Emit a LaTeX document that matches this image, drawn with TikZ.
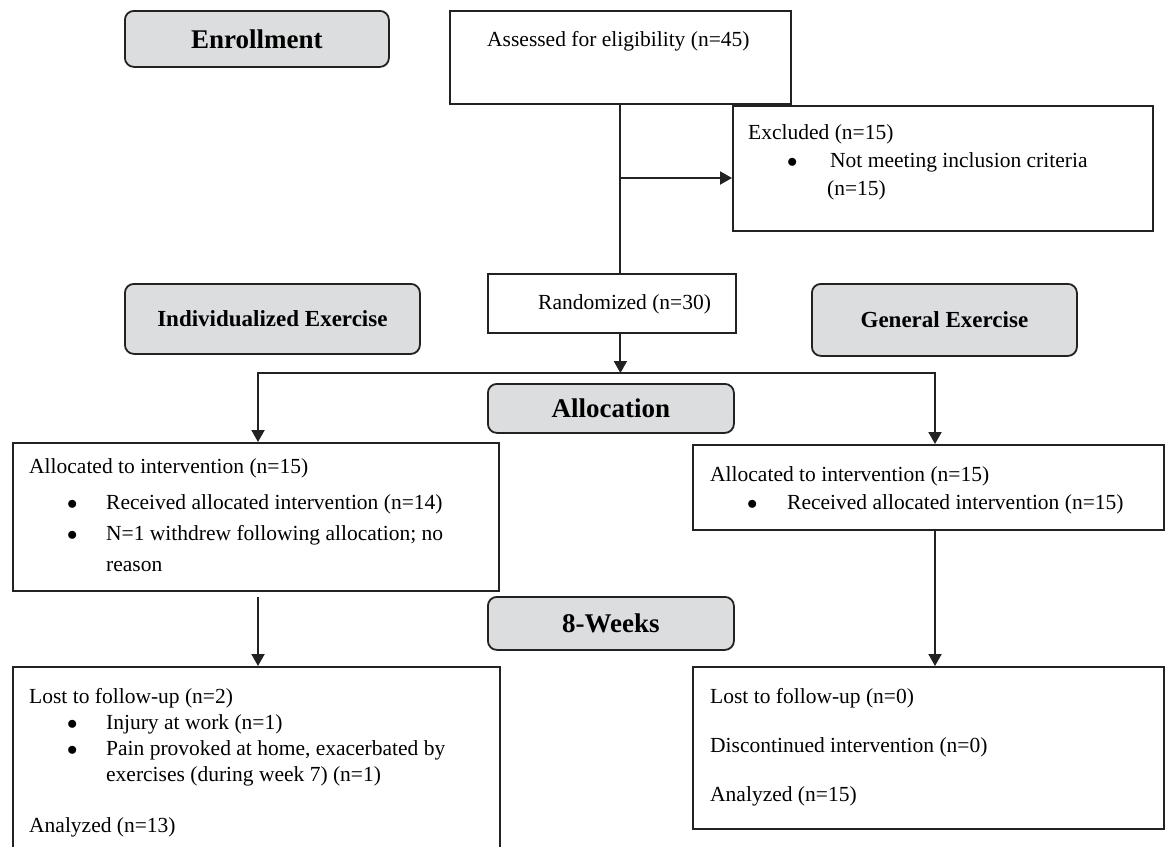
\documentclass[tikz,border=0pt]{standalone}
\usepackage{fontspec}
\setmainfont{Liberation Serif}
\usetikzlibrary{arrows.meta,calc}
\definecolor{hdfill}{HTML}{DCDDDF}
\definecolor{ln}{HTML}{222222}
\newcommand\blt[2]{\hspace*{#1}\makebox[#2][l]{$\bullet$}}
\newcommand\rw[1]{\hbox{#1}}
\begin{document}
\begin{tikzpicture}[x=1pt,y=-1pt,
  box/.style={draw=ln, line width=1.8pt, fill=white, inner sep=0pt, anchor=north west},
  hd/.style={draw=ln, line width=1.8pt, fill=hdfill, rounded corners=9pt, inner sep=0pt, anchor=north west, font=\bfseries\fontsize{27}{30}\selectfont},
  hds/.style={hd, font=\bfseries\fontsize{23}{26}\selectfont},
  txt/.style={inner sep=0pt, anchor=base west, font=\fontsize{21.5}{31}\selectfont},
  conn/.style={draw=ln, line width=2pt},
  tip/.style={-{Triangle[length=12pt,width=13pt]}},
  arr/.style={conn, tip}]
\clip (0,0) rectangle (1166,846);
\fill[white] (0,0) rectangle (1166,846);

% headers
\node[hd, minimum width=264pt, minimum height=56pt] (enr) at (124,10) {Enrollment};
\node[hds, minimum width=295pt, minimum height=70pt] (ind) at (124,283) {Individualized Exercise};
\node[hds, minimum width=265pt, minimum height=72pt] (gen) at (811,283) {General Exercise};
\node[hd, minimum width=246pt, minimum height=49pt] (alc) at (487,383) {Allocation};
\node[hd, minimum width=246pt, minimum height=53pt] (wks) at (487,596) {8-Weeks};

% boxes
\node[box, minimum width=341pt, minimum height=93pt] (assess) at (449,10) {};
\node[txt] (tassess) at (487,46) {Assessed for eligibility (n=45)};

\node[box, minimum width=420pt, minimum height=125pt] (excl) at (732,105) {};
\node[txt, font=\fontsize{21.5}{28}\selectfont] (texcl) at (748,139) {\vtop{%
\rw{Excluded (n=15)}
\rw{\blt{39pt}{43pt}Not meeting inclusion criteria}
\rw{\hspace*{79pt}(n=15)}}};

\node[box, minimum width=248pt, minimum height=59pt] (rand) at (487,273) {};
\node[txt] (trand) at (538,309) {Randomized (n=30)};

\node[box, minimum width=486pt, minimum height=148pt] (lalloc) at (12,442) {};
\node[txt] (tlalloc) at (29,473) {\vtop{%
\rw{Allocated to intervention (n=15)}\vskip5pt
\rw{\blt{38pt}{39pt}Received allocated intervention (n=14)}
\rw{\blt{38pt}{39pt}N=1 withdrew following allocation; no}
\rw{\hspace*{77pt}reason}}};

\node[box, minimum width=471pt, minimum height=85pt] (ralloc) at (692,444) {};
\node[txt, font=\fontsize{21.5}{28}\selectfont] (tralloc) at (710,481) {\vtop{%
\rw{Allocated to intervention (n=15)}
\rw{\blt{37pt}{40pt}Received allocated intervention (n=15)}}};

\node[box, minimum width=487pt, minimum height=200pt] (lfu) at (12,666) {};
\node[txt, font=\fontsize{21.5}{26}\selectfont] (tlfu) at (29,703) {\vtop{%
\rw{Lost to follow-up (n=2)}
\rw{\blt{38pt}{39pt}Injury at work (n=1)}
\rw{\blt{38pt}{39pt}Pain provoked at home, exacerbated by}
\rw{\hspace*{77pt}exercises (during week 7) (n=1)}\vskip25pt
\rw{Analyzed (n=13)}}};

\node[box, minimum width=471pt, minimum height=162pt] (rfu) at (692,666) {};
\node[txt, font=\fontsize{21.5}{49}\selectfont] (trfu) at (710,703) {\vtop{%
\rw{Lost to follow-up (n=0)}
\rw{Discontinued intervention (n=0)}
\rw{Analyzed (n=15)}}};

% connectors
\coordinate (split) at (assess.south |- 0,178);
\coordinate (barL) at (258,373);
\coordinate (barR) at (935,373);
\draw[conn] (assess.south) -- (assess.south |- rand.north);
\draw[arr] (split) -- (split -| excl.west);
\draw[arr] (rand.south -| assess.south) -- (assess.south |- barL);
\draw[conn, {Triangle[length=12pt,width=13pt]}-{Triangle[length=12pt,width=13pt]}]
  (lalloc.north -| barL) -- (barL) -- (barR) -- (ralloc.north -| barR);
\coordinate (lstart) at ($(lalloc.south -| barL)+(0,5)$);
\draw[arr] (lstart) -- (lstart |- lfu.north);
\draw[arr] (ralloc.south -| barR) -- (barR |- rfu.north);
\end{tikzpicture}
\end{document}
